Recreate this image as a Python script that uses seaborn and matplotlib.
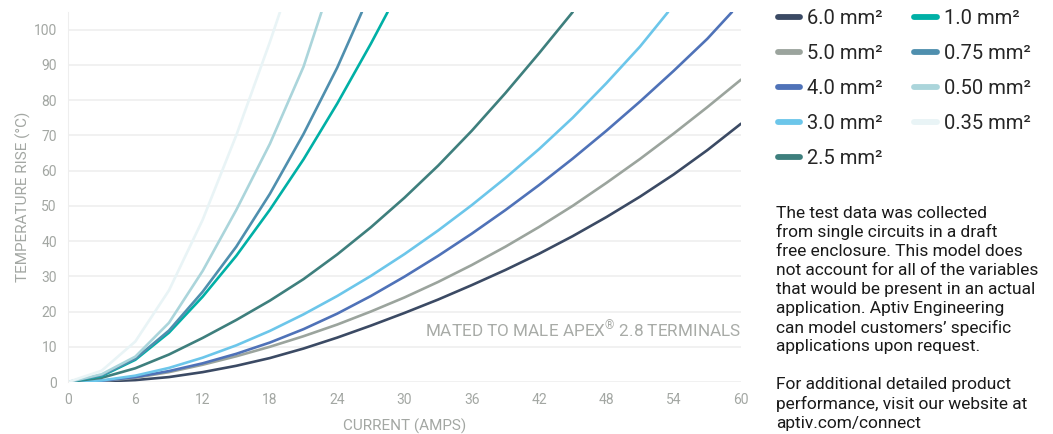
import pandas as pd
import matplotlib
matplotlib.use("Agg")
import matplotlib.pyplot as plt
import seaborn as sns

# ---- data (current in A, temperature rise in C) ----
sizes = ["6.0 mm²", "5.0 mm²", "4.0 mm²", "3.0 mm²", "2.5 mm²",
         "1.0 mm²", "0.75 mm²", "0.50 mm²", "0.35 mm²"]

amps_6_0 = [0, 3, 6, 9, 12, 15, 18, 21, 24, 27, 30, 33, 36, 39, 42, 45, 48, 51, 54, 57, 60]
rise_6_0 = [0, 0.15, 0.55, 1.4, 2.8, 4.6, 6.8, 9.5, 12.6, 16, 19.6, 23.4, 27.5, 31.8, 36.4, 41.4, 46.8, 52.6, 58.9, 65.8, 73.3]

amps_5_0 = [0, 3, 6, 9, 12, 15, 18, 21, 24, 27, 30, 33, 36, 39, 42, 45, 48, 51, 54, 57, 60]
rise_5_0 = [0, 0.3, 1.2, 2.8, 4.9, 7.3, 10, 13, 16.3, 20, 24, 28.4, 33.2, 38.4, 44, 50, 56.5, 63.3, 70.5, 78, 85.8]

amps_4_0 = [0, 3, 6, 9, 12, 15, 18, 21, 24, 27, 30, 33, 36, 39, 42, 45, 48, 51, 54, 57, 59.2]
rise_4_0 = [0, 0.35, 1.4, 3.1, 5.3, 8, 11.2, 15, 19.4, 24.4, 29.9, 35.8, 42.1, 48.8, 55.9, 63.4, 71.3, 79.6, 88.3, 97.4, 105]

amps_3_0 = [0, 3, 6, 9, 12, 15, 18, 21, 24, 27, 30, 33, 36, 39, 42, 45, 48, 51, 53.5]
rise_3_0 = [0, 0.45, 1.8, 4, 6.9, 10.4, 14.5, 19.2, 24.4, 30.1, 36.3, 43, 50.2, 57.9, 66.1, 75, 84.8, 95.2, 105]

amps_2_5 = [0, 3, 6, 9, 12, 15, 18, 21, 24, 27, 30, 33, 36, 39, 42, 45]
rise_2_5 = [0, 1.2, 3.9, 7.8, 12.5, 17.6, 23.1, 29.2, 36.2, 43.9, 52.3, 61.4, 71.3, 82, 93.3, 105]

amps_1_0 = [0, 3, 6, 9, 12, 15, 18, 21, 24, 27, 28.5]
rise_1_0 = [0, 1.7, 6.3, 14, 24.2, 35.8, 48.9, 63.2, 79, 96, 105]

amps_0_75 = [0, 3, 6, 9, 12, 15, 18, 21, 24, 26.2]
rise_0_75 = [0, 1.9, 6.6, 14.6, 25.6, 38.4, 53.4, 70.4, 89.2, 105]

amps_0_50 = [0, 3, 6, 9, 12, 15, 18, 21, 22.6]
rise_0_50 = [0, 2.2, 7.2, 16.8, 31.5, 48.8, 67.6, 89.5, 105]

amps_0_35 = [0, 3, 6, 9, 12, 15, 18, 18.9]
rise_0_35 = [0, 3.2, 11.5, 26, 46, 70, 96.5, 105]

colors = ["#3b4a64", "#9ba49d", "#4f72b8", "#6cc6ea", "#3e7f7d",
          "#00b0a6", "#4f8fae", "#abd5db", "#e9f4f6"]

x_ticks = [0, 6, 12, 18, 24, 30, 36, 42, 48, 54, 60]
y_ticks = [0, 10, 20, 30, 40, 50, 60, 70, 80, 90, 100]

note_lines = ["The test data was collected",
              "from single circuits in a draft",
              "free enclosure. This model does",
              "not account for all of the variables",
              "that would be present in an actual",
              "application. Aptiv Engineering",
              "can model customers\u2019 specific",
              "applications upon request.",
              "",
              "For additional detailed product",
              "performance, visit our website at",
              "aptiv.com/connect"]

series = [(amps_6_0, rise_6_0), (amps_5_0, rise_5_0), (amps_4_0, rise_4_0),
          (amps_3_0, rise_3_0), (amps_2_5, rise_2_5), (amps_1_0, rise_1_0),
          (amps_0_75, rise_0_75), (amps_0_50, rise_0_50), (amps_0_35, rise_0_35)]

frames = []
for name, (a, t) in zip(sizes, series):
    frames.append(pd.DataFrame({"current": a, "rise": t, "size": name}))
df = pd.concat(frames, ignore_index=True)

# ---- plot ----
sns.set_style("white")
plt.rcParams["font.family"] = ["Roboto", "DejaVu Sans"]
plt.rcParams["mathtext.fontset"] = "custom"
plt.rcParams["mathtext.rm"] = "Roboto"

fig = plt.figure(figsize=(10.53, 4.34), dpi=100)
ax = fig.add_axes([0.0646, 0.1198, 0.6391, 0.8526])

sns.lineplot(data=df, x="current", y="rise", hue="size", hue_order=sizes,
             palette=dict(zip(sizes, colors)), linewidth=1.9, sort=False,
             estimator=None, ax=ax)

ax.set_xlim(0, 60)
ax.set_ylim(0, 105)
ax.set_xticks(x_ticks)
ax.set_yticks(y_ticks)
ax.tick_params(length=0, colors="#a3a7a3", labelsize=10, pad=8)
ax.yaxis.grid(True, color="#efefef", linewidth=1.2)
ax.xaxis.grid(False)
ax.set_axisbelow(True)
for side in ["top", "right", "bottom"]:
    ax.spines[side].set_visible(False)
ax.spines["left"].set_color("#eeeeee")

ax.set_xlabel("CURRENT (AMPS)", color="#a3a7a3", fontsize=11, labelpad=8)
ax.set_ylabel("TEMPERATURE RISE (°C)", color="#a3a7a3", fontsize=11, labelpad=2)

ax.text(60, 15, r"MATED TO MALE APEX$^{\mathrm{®}}$ 2.8 TERMINALS", ha="right",
        va="center", color="#a8aba7", fontsize=12.3)

handles, labels = ax.get_legend_handles_labels()
ax.get_legend().remove()
leg = fig.legend(handles, labels, ncol=2, loc="upper left",
                 bbox_to_anchor=(0.725, 1.012), frameon=False, fontsize=14.5,
                 handlelength=1.1, handletextpad=0.35, columnspacing=1.6,
                 labelspacing=0.8, borderpad=0.2)
for line in leg.get_lines():
    line.set_linewidth(4.2)

# side note, one line at a time (19 px apart)
for i, txt in enumerate(note_lines):
    fig.text(776 / 1053, 1 - (213 + 19.1 * i) / 434, txt, ha="left",
             va="center", fontsize=12.5, color="#1a1a1a")

fig.savefig("out.png", dpi=100)
